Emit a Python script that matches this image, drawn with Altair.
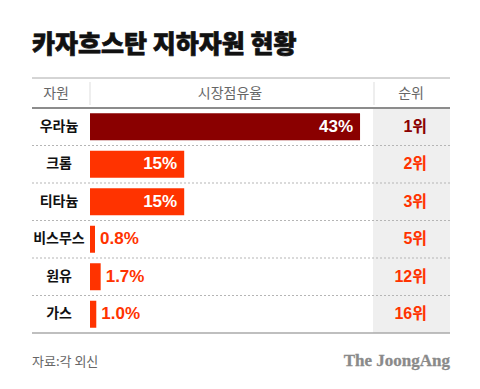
import altair as alt
import pandas as pd

title_text = "카자흐스탄 지하자원 현황"
headers = ["자원", "시장점유율", "순위"]
resources = ["우라늄", "크롬", "티타늄", "비스무스", "원유", "가스"]
shares = [43, 15, 15, 0.8, 1.7, 1.0]
share_labels = ["43%", "15%", "15%", "0.8%", "1.7%", "1.0%"]
ranks = ["1위", "2위", "3위", "5위", "12위", "16위"]
rank_nums = [1, 2, 3, 5, 12, 16]
source_text = "자료:각 외신"
brand_text = "The JoongAng"

DARK = "#8a0000"
BRIGHT = "#ff3300"
KR = "Noto Sans CJK KR"
NUM = "Liberation Sans, Noto Sans CJK KR"

df = pd.DataFrame({
    "resource": resources,
    "share": shares,
    "label": share_labels,
    "rank": ranks,
    "rank_num": rank_nums,
})

W, H = 418, 225

xscale = alt.Scale(domain=[-9.236, 57.325], nice=False)
yenc = alt.Y("resource:N", sort=resources, axis=None,
             scale=alt.Scale(paddingInner=0, paddingOuter=0))
color_cond = alt.condition(alt.datum.rank_num == 1, alt.value(DARK), alt.value(BRIGHT))

base = alt.Chart(df)

one = pd.DataFrame({"k": [0]})

rank_bg = alt.Chart(one).mark_rect(color="#efefef").encode(
    x=alt.value(341), x2=alt.value(W), y=alt.value(0), y2=alt.value(H))

separators = base.transform_filter(alt.datum.rank_num != 16).mark_rule(
    color="#b5b5b5", strokeDash=[2, 2], strokeWidth=1).encode(
    y=alt.Y("resource:N", sort=resources, axis=None, bandPosition=1,
            scale=alt.Scale(paddingInner=0, paddingOuter=0)),
    x=alt.value(0), x2=alt.value(W))

bars = base.mark_bar(height=alt.RelativeBandSize(0.72)).encode(
    x=alt.X("share:Q", scale=xscale, axis=None),
    y=yenc,
    color=color_cond,
)

inside = base.transform_filter(alt.datum.share >= 10).mark_text(
    align="right", baseline="middle", dx=-7, color="white",
    fontSize=17, fontWeight="bold", font=NUM).encode(
    x=alt.X("share:Q", scale=xscale, axis=None), y=yenc, text="label:N")

outside = base.transform_filter(alt.datum.share < 10).mark_text(
    align="left", baseline="middle", dx=5, color=BRIGHT,
    fontSize=17, fontWeight="bold", font=NUM).encode(
    x=alt.X("share:Q", scale=xscale, axis=None), y=yenc, text="label:N")

cat_labels = base.mark_text(align="center", baseline="middle", fontSize=14,
                            fontWeight="bold", font=KR, color="#111").encode(
    x=alt.value(27), y=yenc, text="resource:N")

rank_labels = base.mark_text(align="right", baseline="middle", fontSize=16,
                             fontWeight="bold", font=NUM).encode(
    x=alt.value(395), y=yenc, text="rank:N", color=color_cond)

top_line = alt.Chart(one).mark_rule(color="#aaaaaa", strokeWidth=1).encode(
    x=alt.value(0), x2=alt.value(W), y=alt.value(-30))
head_line = alt.Chart(one).mark_rule(color="#8c8c8c", strokeWidth=2).encode(
    x=alt.value(0), x2=alt.value(W), y=alt.value(0))
bottom_line = alt.Chart(one).mark_rule(color="#aaaaaa", strokeWidth=1.5).encode(
    x=alt.value(0), x2=alt.value(W), y=alt.value(H))
vsep1 = alt.Chart(one).mark_rule(color="#dddddd", strokeWidth=1).encode(
    x=alt.value(58), y=alt.value(-26), y2=alt.value(-3))
vsep2 = alt.Chart(one).mark_rule(color="#dddddd", strokeWidth=1).encode(
    x=alt.value(342), y=alt.value(-26), y2=alt.value(-3))

header_x = [24, 198, 379]
header_layers = []
for h, hx in zip(headers, header_x):
    header_layers.append(
        alt.Chart(pd.DataFrame({"t": [h]})).mark_text(
            align="center", baseline="middle", fontSize=14, font=KR,
            color="#666666").encode(x=alt.value(hx), y=alt.value(-14), text="t:N"))

title = alt.Chart(pd.DataFrame({"t": [title_text]})).mark_text(
    align="left", baseline="middle", fontSize=25, fontWeight=900, font=KR,
    color="#111111", stroke="#111111", strokeWidth=0.7).encode(
    x=alt.value(0), y=alt.value(-63), text="t:N")

source = alt.Chart(pd.DataFrame({"t": [source_text]})).mark_text(
    align="left", baseline="middle", fontSize=13, font=KR,
    color="#666666").encode(x=alt.value(0), y=alt.value(254), text="t:N")

brand = alt.Chart(pd.DataFrame({"t": [brand_text]})).mark_text(
    align="right", baseline="middle", fontSize=17, fontWeight="bold",
    font="Liberation Serif", color="#8a8a8a", stroke="#8a8a8a",
    strokeWidth=0.3).encode(
    x=alt.value(W), y=alt.value(253), text="t:N")

chart = alt.layer(
    rank_bg, separators, bars, inside, outside, cat_labels, rank_labels,
    top_line, head_line, bottom_line, vsep1, vsep2, *header_layers,
    title, source, brand
).properties(
    width=W, height=H,
    autosize=alt.AutoSizeParams(type="none"),
    padding={"left": 24, "top": 100, "right": 22, "bottom": 56},
    background="white",
).configure_view(stroke=None)

chart.save("out.html", embed_options={"renderer": "svg", "actions": False})
